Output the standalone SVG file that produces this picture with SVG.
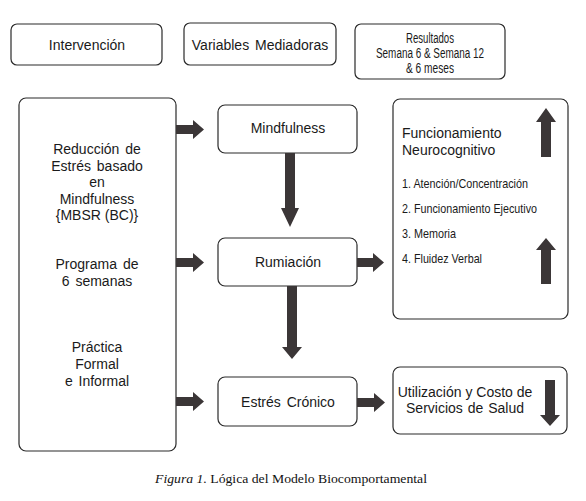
<svg xmlns="http://www.w3.org/2000/svg" width="586" height="501" viewBox="0 0 586 501">
<defs>
<style>
.box{fill:#fff;stroke:#2a2a2a;stroke-width:1.2}
.t{font-family:"Liberation Sans",Arial,sans-serif;font-size:14px;fill:#1a1a1a;text-anchor:middle}
.n{font-family:"Liberation Sans",Arial,sans-serif;font-size:13px;fill:#1a1a1a}
.arr{fill:#3b3637}
.cap{font-family:"Liberation Serif","Times New Roman",serif;font-size:13.5px;fill:#111}
</style>
</defs>
<rect width="586" height="501" fill="#fff"/>

<g id="hdr-intervencion">
<rect class="box" x="11" y="24" width="151" height="41" rx="6"/>
<text class="t" x="87" y="50">Intervención</text>
</g>
<g id="hdr-variables">
<rect class="box" x="184" y="23" width="152" height="42" rx="6"/>
<text class="t" x="260" y="50" word-spacing="2">Variables Mediadoras</text>
</g>
<g id="hdr-resultados">
<rect class="box" x="355" y="24" width="150" height="55" rx="6"/>
<text class="t" x="430" y="43" font-size="13" textLength="48" lengthAdjust="spacingAndGlyphs">Resultados</text>
<text class="t" x="430" y="58" font-size="13" textLength="108" lengthAdjust="spacingAndGlyphs">Semana 6 &amp; Semana 12</text>
<text class="t" x="430" y="73" font-size="13" textLength="48" lengthAdjust="spacingAndGlyphs">&amp; 6 meses</text>
</g>

<g id="intervencion">
<rect class="box" x="19" y="98" width="157" height="353" rx="7"/>
<text class="t" x="97" y="154" word-spacing="2">Reducción de</text>
<text class="t" x="97" y="171" word-spacing="2">Estrés basado</text>
<text class="t" x="97" y="187">en</text>
<text class="t" x="97" y="204">Mindfulness</text>
<text class="t" x="97" y="220">{MBSR (BC)}</text>
<text class="t" x="97" y="269" word-spacing="2">Programa de</text>
<text class="t" x="97" y="286" word-spacing="2">6 semanas</text>
<text class="t" x="97" y="352">Práctica</text>
<text class="t" x="97" y="369">Formal</text>
<text class="t" x="97" y="386" word-spacing="2">e Informal</text>
</g>

<g id="mindfulness">
<rect class="box" x="218" y="105" width="139" height="48" rx="7"/>
<text class="t" x="288" y="133">Mindfulness</text>
</g>
<g id="rumiacion">
<rect class="box" x="218" y="238" width="139" height="48" rx="7"/>
<text class="t" x="288" y="267">Rumiación</text>
</g>
<g id="estres">
<rect class="box" x="218" y="377" width="139" height="49" rx="7"/>
<text class="t" x="288" y="407" word-spacing="2">Estrés Crónico</text>
</g>

<g id="neurocognitivo">
<rect class="box" x="393" y="99" width="175" height="220" rx="7"/>
<text class="t" x="402" y="138" style="text-anchor:start">Funcionamiento</text>
<text class="t" x="402" y="155" style="text-anchor:start">Neurocognitivo</text>
<text class="n" x="402" y="188" textLength="126" lengthAdjust="spacingAndGlyphs">1. Atención/Concentración</text>
<text class="n" x="402" y="213" textLength="135" lengthAdjust="spacingAndGlyphs">2. Funcionamiento Ejecutivo</text>
<text class="n" x="402" y="238" textLength="54" lengthAdjust="spacingAndGlyphs">3. Memoria</text>
<text class="n" x="402" y="263" textLength="80" lengthAdjust="spacingAndGlyphs">4. Fluidez Verbal</text>
<polygon class="arr" points="546,108 556,122 551,122 551,157 541,157 541,122 536,122"/>
<polygon class="arr" points="546,238 556,250 551,250 551,284 541,284 541,250 536,250"/>
</g>

<g id="servicios">
<rect class="box" x="393" y="367" width="174" height="67" rx="7"/>
<text class="t" x="465" y="397">Utilización y Costo de</text>
<text class="t" x="465" y="413" word-spacing="1">Servicios de Salud</text>
<polygon class="arr" points="545,380 555,380 555,415 560,415 550,426 540,415 545,415"/>
</g>

<g id="connectors">
<polygon class="arr" points="176,125 193,125 193,120 204,129.5 193,139 193,134 176,134"/>
<polygon class="arr" points="176,258 193,258 193,253 204,262.5 193,272 193,267 176,267"/>
<polygon class="arr" points="176,397 193,397 193,392 204,401.5 193,411 193,406 176,406"/>
<polygon class="arr" points="357,258 373,258 373,253 384,262.5 373,272 373,267 357,267"/>
<polygon class="arr" points="357,398 374,398 374,393 385,402.5 374,412 374,407 357,407"/>
<polygon class="arr" points="285,153 295,153 295,208 299,208 290,227 281,208 285,208"/>
<polygon class="arr" points="287,286 297,286 297,347 302,347 292,359 282,347 287,347"/>
</g>

<text class="cap" x="155" y="483" textLength="272" lengthAdjust="spacingAndGlyphs"><tspan font-style="italic">Figura 1.</tspan> Lógica del Modelo Biocomportamental</text>
</svg>
